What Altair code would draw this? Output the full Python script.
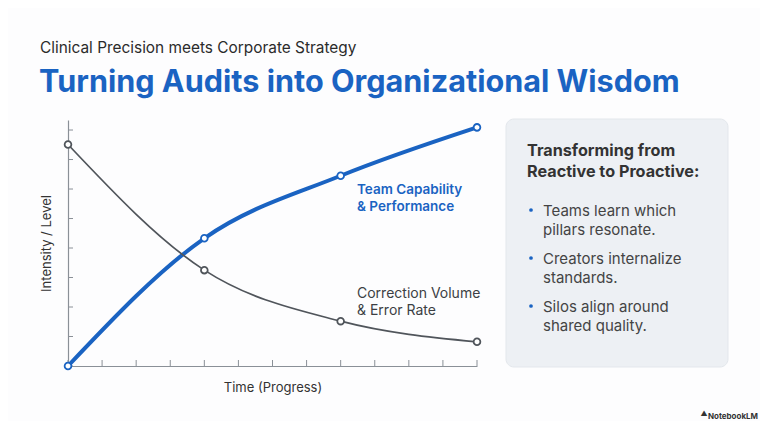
import altair as alt
import pandas as pd

# ---- data ----
time_points = [0, 4, 8, 12]
capability = [0.0, 4.33, 6.45, 8.09]
corrections = [7.51, 3.25, 1.52, 0.82]
x_tick_values = list(range(0, 13))
y_tick_values = list(range(0, 9))

subtitle = "Clinical Precision meets Corporate Strategy"
title = "Turning Audits into Organizational Wisdom"
cap_label = "Team Capability\n& Performance"
corr_label = "Correction Volume\n& Error Rate"
panel_heading = "Transforming from\nReactive to Proactive:"
bullets = [
    "Teams learn which\npillars resonate.",
    "Creators internalize\nstandards.",
    "Silos align around\nshared quality.",
]

BLUE = "#1a63c2"
GRAY = "#50555b"
AXIS = "#8a9097"
TEXT = "#333333"
FONT = "Inter"

df = pd.DataFrame({
    "t": time_points * 2,
    "v": capability + corrections,
    "series": ["Capability"] * 4 + ["Corrections"] * 4,
})

xs = alt.Scale(domain=[0, 12], nice=False, zero=False)
ys = alt.Scale(domain=[0, 8.34], nice=False, zero=False)

one = pd.DataFrame({"a": [0]})

panel = alt.Chart(one).mark_rect(
    fill="#edf0f4", cornerRadius=8, stroke="#e3e7ec", strokeWidth=1
).encode(x=alt.value(438), x2=alt.value(660), y=alt.value(-1), y2=alt.value(247))

def txt(text, x, y, size, color=TEXT, weight="normal", lh=None, align="left"):
    kw = dict(font=FONT, fontSize=size, color=color, fontWeight=weight, align=align)
    if lh:
        kw.update(lineBreak="\n", lineHeight=lh)
    return alt.Chart(one).mark_text(**kw).encode(
        x=alt.value(x), y=alt.value(y), text=alt.value(text)
    )

texts = [
    txt(subtitle, -28, -72, 15.4, "#2b2b2b"),
    txt(title, -29, -37, 30.6, BLUE, "bold"),
    txt(cap_label, 289, 70, 13.5, BLUE, 600, 16.5),
    txt(corr_label, 289, 174, 14, "#3c3f44", "normal", 17),
    txt(panel_heading, 459, 31, 16.2, TEXT, "bold", 21),
]
for i, b in enumerate(bullets):
    texts.append(txt(b, 475, 91 + 48 * i, 15, "#444444", "normal", 18.5))
    texts.append(
        alt.Chart(one).mark_circle(color=BLUE, size=14, opacity=1).encode(
            x=alt.value(463), y=alt.value(90 + 48 * i)
        )
    )
texts.append(txt("NotebookLM", 690, 297, 8, "#333333", "bold", None, "right"))
texts.append(
    alt.Chart(one).mark_text(font=FONT, fontSize=7, color="#333333", text="\u25B2").encode(
        x=alt.value(636), y=alt.value(294)
    )
)

xticks = alt.Chart(pd.DataFrame({"t": x_tick_values})).mark_rule(
    color=AXIS, strokeWidth=1
).encode(x=alt.X("t:Q", scale=xs), y=alt.value(240), y2=alt.value(246))

yticks = alt.Chart(pd.DataFrame({"v": y_tick_values})).mark_rule(
    color=AXIS, strokeWidth=1
).encode(y=alt.Y("v:Q", scale=ys), x=alt.value(0), x2=alt.value(5))

base = alt.Chart(df).encode(
    x=alt.X("t:Q", scale=xs, axis=alt.Axis(
        title="Time (Progress)", ticks=False, labels=False, grid=False,
        domainColor=AXIS, domainWidth=1.2, titleFont=FONT, titleFontSize=13,
        titleFontWeight="normal", titleColor=TEXT, titlePadding=15)),
    y=alt.Y("v:Q", scale=ys, axis=alt.Axis(
        title="Intensity / Level", ticks=False, labels=False, grid=False,
        domainColor=AXIS, domainWidth=1.2, titleFont=FONT, titleFontSize=13,
        titleFontWeight="normal", titleColor=TEXT, titlePadding=15)),
    color=alt.Color("series:N", scale=alt.Scale(
        domain=["Capability", "Corrections"], range=[BLUE, GRAY]), legend=None),
)

lines = base.mark_line(interpolate="monotone").encode(
    strokeWidth=alt.StrokeWidth("series:N", scale=alt.Scale(
        domain=["Capability", "Corrections"], range=[4, 1.7]), legend=None),
)
points = base.mark_point(shape="circle", filled=False, fill="white", size=45,
                         opacity=1, fillOpacity=1, strokeWidth=1.8)

chart = alt.layer(panel, *texts, xticks, yticks, lines, points).properties(
    width=409, height=246,
    padding={"left": 60, "top": 112, "right": 283, "bottom": 55},
    autosize=alt.AutoSizeParams(type="none"),
    background="#fdfdfe",
).configure_view(stroke=None)

chart.save("out.html", embed_options={"renderer": "svg", "actions": False})
